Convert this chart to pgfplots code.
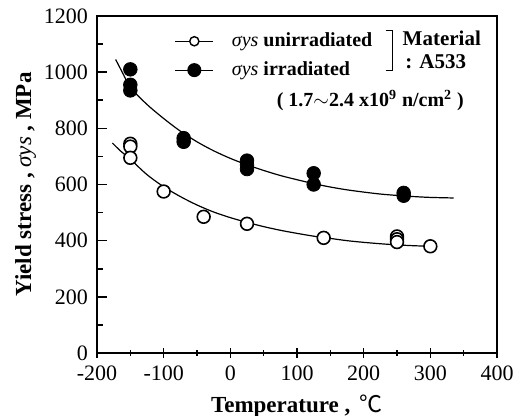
\documentclass[border=0pt]{standalone}
\usepackage{pgfplots}
\pgfplotsset{compat=1.18}
\usepackage{fontspec}
\setmainfont{Liberation Serif}
\newfontfamily\cjk{Noto Sans CJK SC}

% measured data, yield stress (MPa) vs temperature (C)
\pgfplotstableread{
T    S
-150 745
-150 735
-150 695
-100 575
-40  485
25   460
140  410
250  415
250  405
250  395
300  380
}\unirr
\pgfplotstableread{
T    S
-150 1010
-150 955
-150 935
-70  765
-70  752
25   685
25   670
25   655
125  640
125  600
260  570
260  560
}\irr

\begin{document}
\begin{tikzpicture}
\useasboundingbox (-48.5pt,-31.5pt) rectangle (210.5pt,176.5pt);
\begin{axis}[
  scale only axis, width=200pt, height=168.5pt,
  xmin=-200, xmax=400, ymin=0, ymax=1200,
  xtick={-200,-100,0,100,200,300,400},
  xticklabels={-200,-100,0,100,200,300,400},
  minor xtick={-150,-50,50,150,250,350},
  ytick={0,200,400,600,800,1000,1200},
  yticklabels={0,200,400,600,800,1000,1200},
  minor ytick={100,300,500,700,900,1100},
  xtick pos=bottom, ytick pos=left,
  tick align=inside,
  major tick length=5pt, minor tick length=3pt,
  major x tick style={yshift=-2.5pt},
  minor x tick style={yshift=-1.5pt},
  every tick/.style={black, line width=0.8pt},
  axis line style={line width=0.9pt},
  tick label style={font=\fontsize{11}{13}\selectfont},
  xticklabel style={yshift=-3pt},
  yticklabel style={xshift=-1pt},
  xlabel={\textbf{Temperature ,} \,{\cjk ℃}},
  ylabel={\textbf{Yield stress ,} {\itshape σys}\textbf{ , MPa}},
  label style={font=\fontsize{11.5}{13}\selectfont},
  xlabel style={yshift=0pt},
  ylabel style={yshift=-3pt},
  clip=false,
  legend style={at={(axis cs:-93,1170)}, anchor=north west, draw=none, fill=none,
    font=\fontsize{10}{12}\selectfont, row sep=2pt, cells={anchor=west}},
  legend image code/.code={
    \draw[#1] (0pt,0pt) -- (19pt,0pt);
    \draw[#1, only marks] plot coordinates {(9.5pt,0pt)};
  },
]
% fitted curves
\addplot[black, line width=0.6pt, smooth, forget plot] coordinates {
(-177,748)(-165,720)(-150,690)(-125,635)(-100,592)(-75,557)(-50,527)(-25,502)
(0,482)(25,465)(50,450)(75,437)(100,426)(125,416)(150,408)(175,400)(200,394)
(225,389)(250,385)(275,382)(300,380)};
\addplot[black, line width=0.6pt, smooth, forget plot] coordinates {
(-172,1045)(-160,990)(-150,945)(-125,885)(-100,835)(-75,790)(-50,752)(-25,720)
(0,693)(25,670)(50,650)(75,632)(100,617)(125,603)(150,591)(175,581)(200,573)
(225,566)(250,561)(275,557)(300,554)(335,552)};
% data
\addplot[only marks, mark=*, mark size=3.2pt, mark options={draw=black, fill=white, line width=0.8pt}, forget plot]
  table[x=T, y=S] {\unirr};
\addplot[only marks, mark=*, mark size=3.4pt, mark options={draw=black, fill=black}, forget plot]
  table[x=T, y=S] {\irr};
% legend
\addlegendimage{black, line width=0.6pt, mark=*, mark size=2.3pt, mark options={fill=white, line width=0.7pt}}
\addlegendentry{\hspace{7pt}{\itshape σys}\textbf{ unirradiated}}
\addlegendimage{black, line width=0.6pt, mark=*, mark size=3.2pt, mark options={fill=black}}
\addlegendentry{\hspace{7pt}{\itshape σys}\textbf{ irradiated}}
% bracket and notes
\draw[line width=0.6pt] (axis cs:234,1149) -- (axis cs:243,1149) -- (axis cs:243,1007) -- (axis cs:234,1007);
\node[anchor=west, font=\fontsize{10.5}{12}\selectfont\bfseries, inner sep=0pt] at (axis cs:258,1121) {Material};
\node[anchor=west, font=\fontsize{10.5}{12}\selectfont\bfseries, inner sep=0pt] at (axis cs:262,1036) {: A533};
\node[font=\fontsize{10}{12}\selectfont\bfseries, inner sep=0pt] at (axis cs:210,900)
  {( 1.7$\sim$2.4 x10\textsuperscript{9} n/cm\textsuperscript{2} )};
\end{axis}
\end{tikzpicture}
\end{document}
